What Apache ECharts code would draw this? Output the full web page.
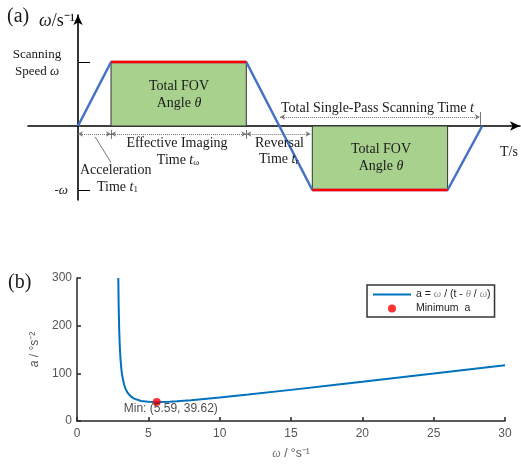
<!DOCTYPE html>
<html>
<head>
<meta charset="utf-8">
<script src="https://cdn.jsdelivr.net/npm/echarts@6/dist/echarts.min.js"></script>
<style>
  html, body { margin: 0; padding: 0; background: #fff; }
  #chart { width: 521px; height: 464px; }
</style>
</head>
<body>
<div id="chart"></div>
<script>
// ---- panel (a): scan velocity profile (schematic units) ----
const phaseT = [0, 1, 5.1, 7.1, 11.2, 12.25];   // accel end, imaging end, reversal end, imaging end, stop
const phaseW = [0, 1, 1, -1, -1, 0];            // +w / -w levels
const spanY = -0.125;                           // dotted time spans under the axis
const spans = [[0, 1], [1, 5.1], [5.1, 7.05]];
const totalSpan = [6.12, 12.18, 0.14];          // total single-pass time arrow (t0, t1, level)

// ---- panel (b): a = w / (t - theta / w) ----
const omega = [2.895, 2.92, 2.96, 3.0, 3.05, 3.1, 3.15, 3.2, 3.3, 3.4, 3.5, 3.6, 3.8, 4.0,
  4.5, 5.0, 5.59, 6.5, 7, 8, 10, 12, 15, 18, 20, 25, 30];
const accel = [300, 243, 189, 156, 130, 112, 99, 90, 76.5, 68, 61.7, 57, 51, 47,
  42.1, 40.2, 39.62, 40.4, 41.3, 43.6, 49.2, 55.4, 65.3, 75.5, 82.4, 99.7, 117.2];
const minW = 5.59, minA = 39.62;
const xTicks = [0, 5, 10, 15, 20, 25, 30];
const yTicks = [0, 100, 200, 300];

const serif = '"Liberation Serif", "Times New Roman", serif';
const sans = '"Liberation Sans", Arial, sans-serif';
const curveName = 'a = ω / (t - θ / ω)';
const dotName = 'Minimum  a';

const chart = echarts.init(document.getElementById('chart'));

// text helper for the schematic annotations
function txt(x, y, text, size, align, extra) {
  return {
    type: 'text', x: x, y: y, silent: true, z: 100,
    style: Object.assign({
      text: text,
      font: size + 'px ' + serif,
      fill: '#1a1a1a',
      align: align || 'center',
      verticalAlign: 'middle',
      rich: {
        i: { fontStyle: 'italic', fontSize: size, fontFamily: serif },
        s: { fontSize: Math.round(size * 0.65), fontFamily: serif, verticalAlign: 'bottom', padding: [4, 0, 0, 0] }
      }
    }, extra || {})
  };
}

const profile = phaseT.map((t, i) => [t, phaseW[i]]);

const boxSeries = [[1, 2], [3, 4]].map(([a, b]) => ({
  type: 'line',
  xAxisIndex: 0, yAxisIndex: 0,
  data: [[phaseT[a], phaseW[a]], [phaseT[b], phaseW[b]]],
  symbol: 'none',
  lineStyle: { color: '#ff0000', width: 2.5 },
  z: 4,
  silent: true,
  markArea: {
    silent: true,
    itemStyle: { color: '#a9d18e', borderColor: '#333', borderWidth: 1 },
    data: [[{ coord: [phaseT[a], 0] }, { coord: [phaseT[b], phaseW[a]] }]]
  }
}));

const arrowLines = spans.map(s => [{ coord: [s[0], spanY] }, { coord: [s[1], spanY] }]);
arrowLines.push([{ coord: [totalSpan[0], totalSpan[2]] }, { coord: [totalSpan[1], totalSpan[2]] }]);

const bars = [1, 5.1].map(x => [{ coord: [x, -0.06] }, { coord: [x, -0.2] }]);
bars.push([{ coord: [totalSpan[1], 0.22] }, { coord: [totalSpan[1], 0.02] }]);
bars.push([{ coord: [0.52, -0.17] }, { coord: [1.0, -0.57] }]);

const option = {
  animation: false,
  backgroundColor: '#fff',
  grid: [
    { left: 28, right: 1, top: 15, height: 185 },
    { left: 77, right: 16, top: 278, bottom: 43 }
  ],
  xAxis: [
    {
      gridIndex: 0, type: 'value', min: -50 / 33, max: 442 / 33,
      axisLine: { onZero: true, symbol: ['none', 'arrow'], symbolSize: [7, 10], lineStyle: { color: '#000', width: 1.6 } },
      axisTick: { show: false }, axisLabel: { show: false }, splitLine: { show: false }
    },
    {
      gridIndex: 1, type: 'value', min: 0, max: 30, interval: 5,
      axisLine: { onZero: false, lineStyle: { color: '#262626', width: 1.5 } },
      axisTick: { inside: true, length: 4, lineStyle: { color: '#262626', width: 1.5 } },
      axisLabel: { color: '#555', fontSize: 12, fontFamily: sans, margin: 7,
        customValues: xTicks },
      splitLine: { show: false },
      name: '{g|ω} / °s⁻¹', nameLocation: 'middle', nameGap: 27,
      nameTextStyle: { color: '#555', fontSize: 12, fontFamily: sans,
        rich: { g: { fontStyle: 'italic', color: '#777', fontSize: 12, fontFamily: serif } } }
    }
  ],
  yAxis: [
    {
      gridIndex: 0, type: 'value', min: -74 / 64, max: 111 / 64,
      axisLine: { onZero: true, symbol: ['none', 'arrow'], symbolSize: [7, 10], lineStyle: { color: '#000', width: 1.6 } },
      axisTick: { inside: true, length: 12, customValues: [1, -1], lineStyle: { color: '#000', width: 1 } },
      axisLabel: { show: false }, splitLine: { show: false }
    },
    {
      gridIndex: 1, type: 'value', min: 0, max: 300, interval: 100,
      axisLine: { show: true, onZero: false, lineStyle: { color: '#262626', width: 1.5 } },
      axisTick: { show: true, inside: true, length: 4, lineStyle: { color: '#262626', width: 1.5 } },
      axisLabel: { color: '#555', fontSize: 12, fontFamily: sans, margin: 5, customValues: yTicks },
      splitLine: { show: false },
      name: '{g|a} / °s⁻²', nameLocation: 'middle', nameGap: 27, nameRotate: 90,
      nameTextStyle: { color: '#555', fontSize: 12, fontFamily: sans,
        rich: { g: { fontStyle: 'italic', color: '#555', fontSize: 12, fontFamily: sans } } }
    }
  ],
  legend: {
    data: [
      { name: curveName, itemStyle: { opacity: 0 } },
      { name: dotName, icon: 'circle' }
    ],
    orient: 'vertical',
    left: 367, top: 285,
    padding: [4, 4, 3, 5],
    itemWidth: 38, itemHeight: 8, itemGap: 3,
    backgroundColor: '#fff',
    borderColor: '#333', borderWidth: 1.5, borderRadius: 0,
    textStyle: {
      fontSize: 10.5, fontFamily: sans, color: '#222',
      rich: { g: { fontStyle: 'italic', color: '#888', fontSize: 10.5, fontFamily: serif } }
    },
    formatter: function (name) {
      if (name === curveName) return 'a = {g|ω} / (t - {g|θ} / {g|ω})';
      return name;
    }
  },
  graphic: [
    txt(7, 17, '(a)', 20, 'left'),
    txt(39, 21, '{i|ω}/s⁻¹', 18, 'left'),
    txt(37, 55, 'Scanning', 13),
    txt(37, 72, 'Speed {i|ω}', 13),
    txt(179, 86, 'Total FOV', 14),
    txt(179, 103, 'Angle {i|θ}', 14),
    txt(381, 149, 'Total FOV', 14),
    txt(381, 166, 'Angle {i|θ}', 14),
    txt(281, 108, 'Total Single-Pass Scanning Time {i|t}', 14, 'left'),
    txt(177, 143, 'Effective Imaging', 14),
    txt(178, 160, 'Time {i|t}{s|ω}', 14),
    txt(255, 143, 'Reversal', 14, 'left'),
    txt(259, 159, 'Time {i|t}{s|r}', 14, 'left'),
    txt(80, 170, 'Acceleration', 14, 'left'),
    txt(97, 187, 'Time {i|t}{s|1}', 14, 'left'),
    txt(68, 191, '{i|-ω}', 13, 'right'),
    txt(500, 152, 'T/s', 14, 'left'),
    txt(8, 283, '(b)', 20, 'left')
  ],
  series: [
    {
      type: 'line', xAxisIndex: 0, yAxisIndex: 0,
      data: profile, symbol: 'none', silent: true, z: 3,
      lineStyle: { color: '#4472c4', width: 2.5 },
      markLine: {
        silent: true, symbol: ['arrow', 'arrow'], symbolSize: [4, 5],
        label: { show: false },
        lineStyle: { color: '#777', type: 'dotted', width: 1 },
        data: arrowLines
      }
    },
    {
      type: 'line', xAxisIndex: 0, yAxisIndex: 0, data: [], silent: true,
      markLine: {
        silent: true, symbol: ['none', 'none'], label: { show: false },
        lineStyle: { color: '#555', type: 'solid', width: 0.8 },
        data: bars
      }
    },
    ...boxSeries,
    {
      name: curveName, type: 'line', xAxisIndex: 1, yAxisIndex: 1,
      data: omega.map((w, i) => [w, accel[i]]),
      symbol: 'none', smooth: false, silent: true,
      lineStyle: { color: '#0072bd', width: 2 },
      itemStyle: { color: '#0072bd' }, z: 3
    },
    {
      name: dotName, type: 'scatter', xAxisIndex: 1, yAxisIndex: 1,
      data: [[minW, minA]], symbolSize: 8, z: 5,
      itemStyle: { color: '#ff0000' },
      label: {
        show: true, position: [-29, 5], align: 'left', verticalAlign: 'top',
        formatter: 'Min: (' + minW + ', ' + minA + ')',
        color: '#1a1a1a', fontSize: 12, fontFamily: sans
      }
    }
  ]
};

chart.setOption(option);
</script>
</body>
</html>
